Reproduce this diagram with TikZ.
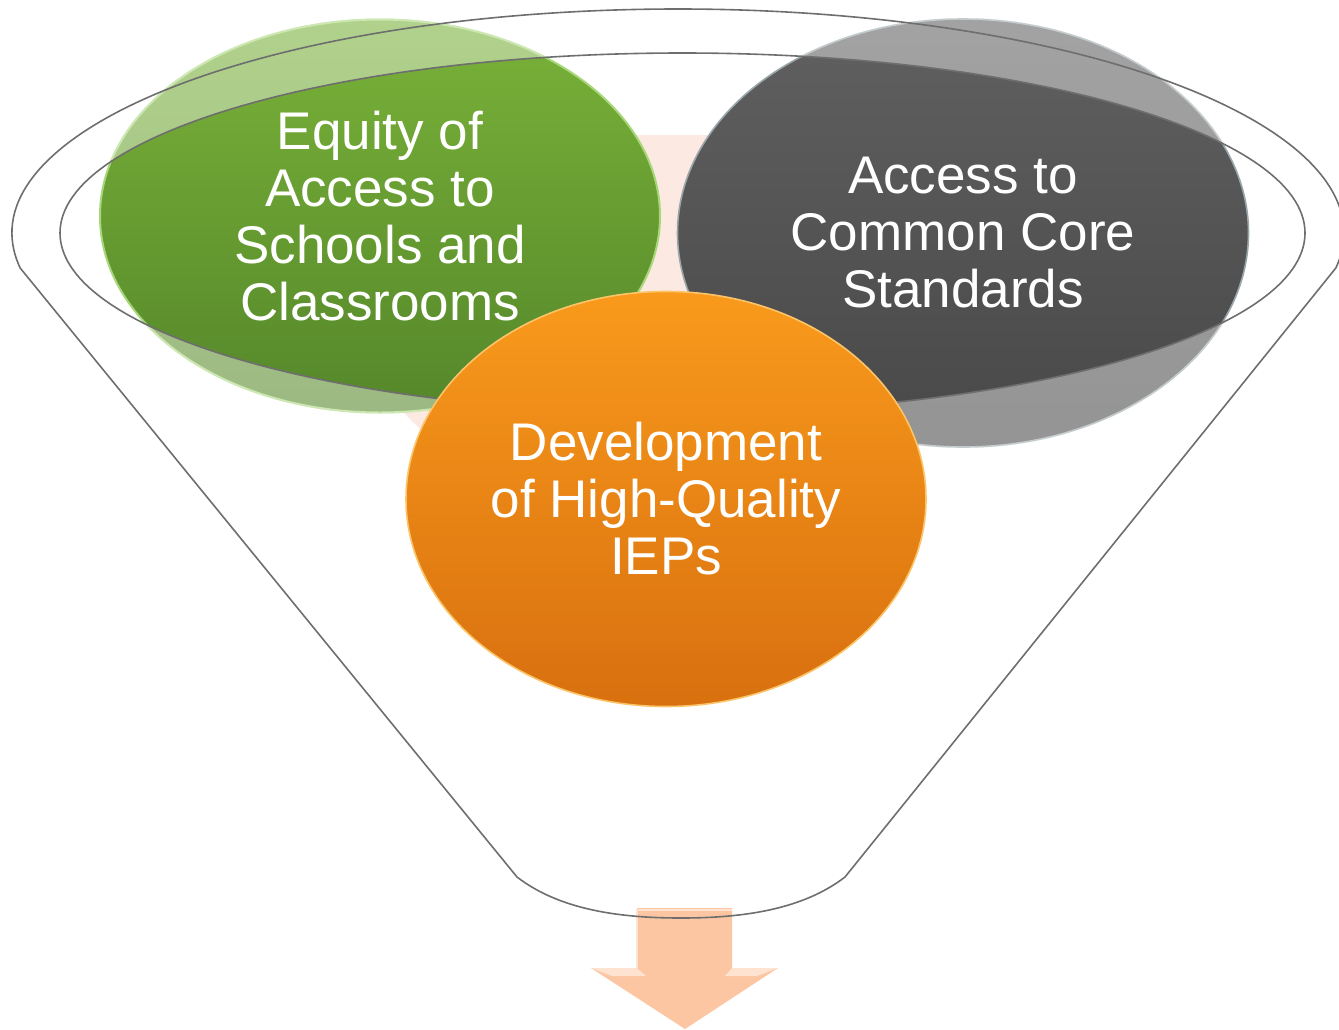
\documentclass[tikz,border=0pt]{standalone}
\usepackage{fontspec}
\setmainfont{Liberation Sans}
\usetikzlibrary{shapes.geometric,calc}
\definecolor{grnTop}{HTML}{79B239}
\definecolor{grnBot}{HTML}{55872A}
\definecolor{grnRim}{HTML}{A8D77A}
\definecolor{gryTop}{HTML}{606060}
\definecolor{gryBot}{HTML}{484848}
\definecolor{gryRim}{HTML}{9AA6AA}
\definecolor{orgTop}{HTML}{F99A1C}
\definecolor{orgBot}{HTML}{D8700F}
\definecolor{orgRim}{HTML}{FBC469}
\definecolor{peachBg}{HTML}{FCE9E2}
\definecolor{arrowPeach}{HTML}{FCC6A2}
\definecolor{arrowLight}{HTML}{FEE3D0}
\definecolor{funnelLine}{HTML}{6E6E6E}
\tikzset{
  bubble/.style={ellipse, inner sep=0pt, align=center, text=white,
    font=\fontsize{53}{57}\selectfont},
  funnel/.style={draw=funnelLine, line width=1.6pt, line join=round},
  fade/.style={fill=white, opacity=0.42, even odd rule}
}
\begin{document}
\begin{tikzpicture}[x=1pt,y=-1pt]
\useasboundingbox (0,0) rectangle (1339,1029);
\clip (0,0) rectangle (1339,1029);
% faint background shape
\fill[peachBg, rounded corners=90pt] (385,135) rectangle (955,447);
% green and gray bubbles
\node[bubble, minimum width=560pt, minimum height=393pt,
  top color=grnTop, bottom color=grnBot, draw=grnRim, line width=2pt]
  (green) at (380,216) {Equity of\\Access to\\Schools and\\Classrooms};
\node[bubble, minimum width=571pt, minimum height=428pt,
  top color=gryTop, bottom color=gryBot, draw=gryRim, line width=1.6pt]
  (gray) at (963,233) {Access to\\Common Core\\Standards};
% lighten the parts outside the inner rim
\coordinate (rimc) at (682.5,233);
\begin{scope}
  \clip (green.center) ellipse [x radius=281, y radius=197.5];
  \fill[fade] (0,0) rectangle (1339,1029) (rimc) ellipse [x radius=622.5, y radius=180];
\end{scope}
\begin{scope}
  \clip (gray.center) ellipse [x radius=286.5, y radius=215];
  \fill[fade] (0,0) rectangle (1339,1029) (rimc) ellipse [x radius=622.5, y radius=180];
\end{scope}
% arrow below the funnel
\fill[arrowPeach] (637,908) -- (732,908) -- (732,968) -- (778,968) -- (685,1029)
  -- (591,968) -- (637,968) -- cycle;
\fill[arrowLight] (591,968) -- (637,968) -- (646,976) -- (612,976) -- cycle;
\fill[arrowLight] (732,968) -- (778,968) -- (757,976) -- (725,976) -- cycle;
\draw[arrowLight, line width=1.2pt] (637,968) -- (637,910) -- (732,910);
% funnel outline
\coordinate (outc) at (678,233);
\coordinate (botL) at (517,877);
\coordinate (botR) at (845,877);
\coordinate (botM) at (681,918);
\draw[funnel] ($(outc)+(171:666 and 224)$) arc[start angle=171, end angle=369,
  x radius=666, y radius=224] -- (botR)
  .. controls (802,910) and (742,918) .. (botM)
  .. controls (620,918) and (560,910) .. (botL) -- cycle;
\draw[funnel] (rimc) ellipse [x radius=622.5, y radius=180];
% orange bubble in front
\node[bubble, minimum width=520pt, minimum height=415pt,
  top color=orgTop, bottom color=orgBot, draw=orgRim, line width=1.6pt]
  (orange) at (666,499) {Development\\of High-Quality\\IEPs};
\end{tikzpicture}
\end{document}
